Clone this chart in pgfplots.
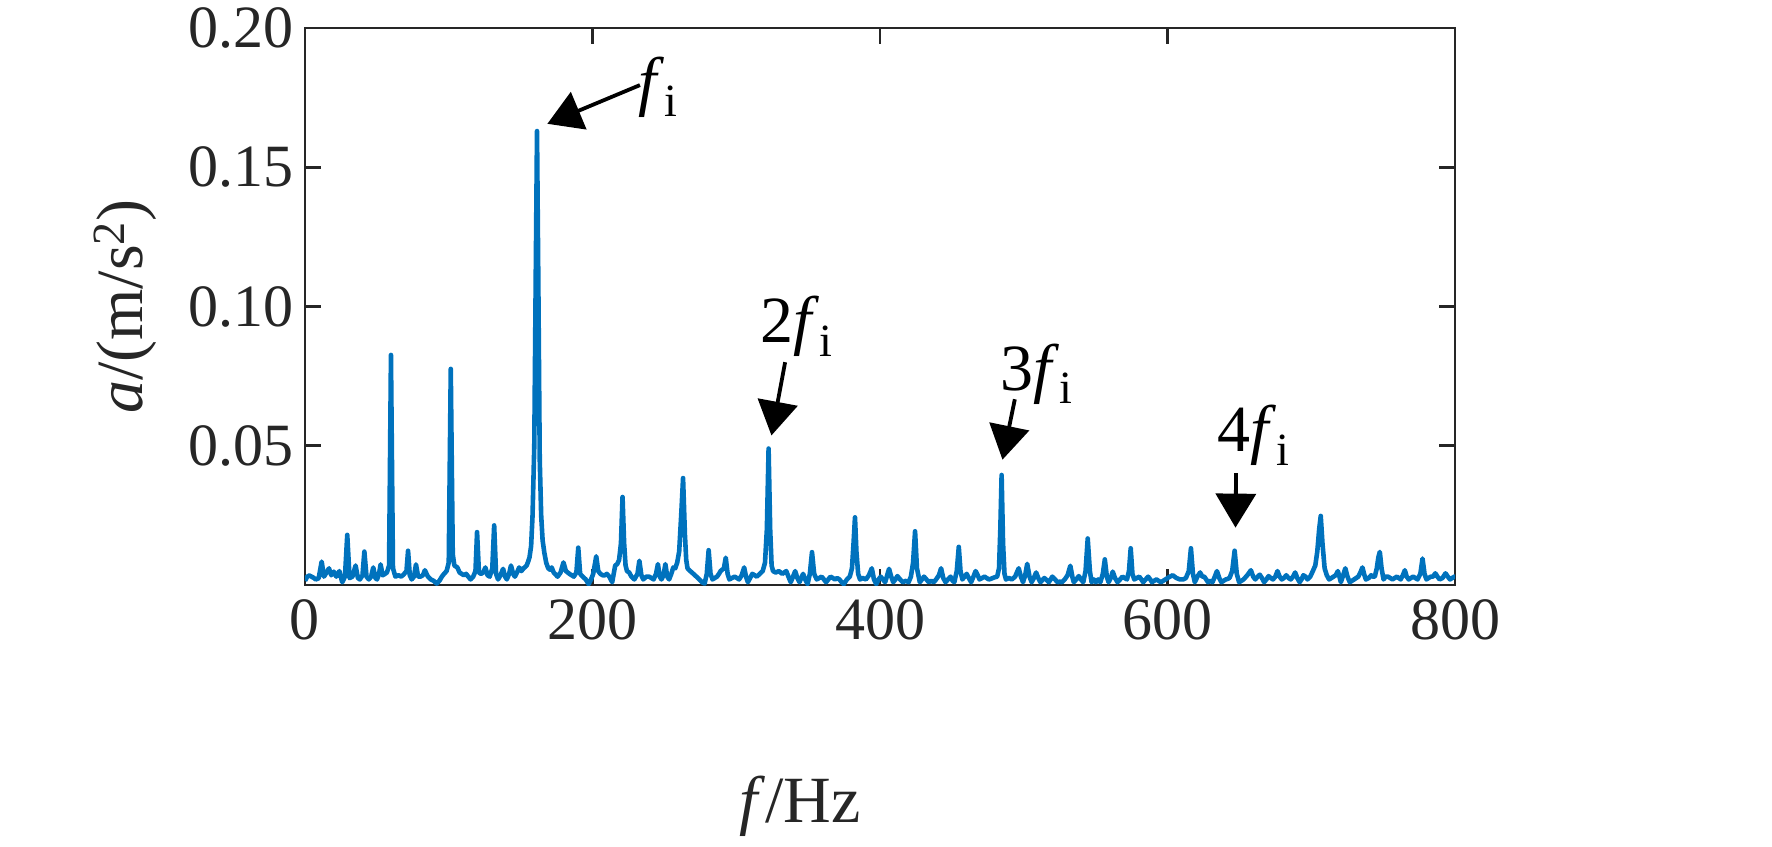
\documentclass[border=0pt]{standalone}
\usepackage{fontspec}
\setmainfont{Liberation Serif}
\usepackage{pgfplots}
\usepackage{pgfplotstable}
\pgfplotsset{compat=1.18}
\usetikzlibrary{arrows.meta}
\definecolor{mblue}{RGB}{0,114,189}
\definecolor{axgray}{RGB}{38,38,38}
\pgfplotstableread{
x y
0 0.0015
1.5 0.0030
3 0.0034
4.5 0.0030
6 0.0026
7.5 0.0020
9.5 0.0024
11.6 0.0084
13.2 0.0030
15 0.0045
16.7 0.0060
18.3 0.0035
20 0.0048
21.8 0.0030
23.9 0.0050
25.9 0.0010
27.8 0.0030
29.4 0.0180
31 0.0025
33 0.0030
35.2 0.0070
36.8 0.0025
38.2 0.0020
40 0.0035
41.3 0.0120
42.8 0.0030
44.4 0.0020
46 0.0030
47.5 0.0063
49 0.0025
50.1 0.0020
51.5 0.0040
52.6 0.0074
54 0.0035
55.7 0.0040
57 0.0045
58.5 0.0070
59.8 0.0826
61.2 0.0060
62.9 0.0030
65 0.0035
67 0.0030
69 0.0040
70.6 0.0050
71.7 0.0123
72.9 0.0035
74.2 0.0020
75.8 0.0030
77.2 0.0074
78.7 0.0030
80.3 0.0030
82 0.0035
83.4 0.0053
85.5 0.0030
87.5 0.0020
89.5 0.0015
91.6 0.0005
93.5 0.0015
95.2 0.0030
96.7 0.0040
98.5 0.0050
100 0.0080
101.4 0.0776
102.8 0.0110
103.9 0.0070
106 0.0063
107.5 0.0045
109 0.0040
110.5 0.0035
112.1 0.0040
113.6 0.0030
115.2 0.0020
117 0.0030
118.6 0.0050
119.7 0.0190
121 0.0045
122.4 0.0040
124 0.0045
125.5 0.0063
127 0.0035
128.5 0.0030
130.3 0.0060
131.6 0.0214
132.9 0.0040
134.3 0.0020
136 0.0035
137.8 0.0058
139.2 0.0030
140.4 0.0020
142 0.0040
143.3 0.0070
144.8 0.0040
146 0.0030
147.5 0.0045
149 0.0063
150.5 0.0050
152.1 0.0060
153.2 0.0065
154.2 0.0070
155.3 0.0085
156.2 0.0100
157.3 0.0140
158.3 0.0250
159.5 0.0500
160.5 0.1100
161.4 0.1630
162.3 0.1100
163.3 0.0450
164.3 0.0250
165.3 0.0160
166.5 0.0116
167.8 0.0080
169.2 0.0060
170.4 0.0055
171.6 0.0063
173 0.0045
175.7 0.0030
177.8 0.0045
179.8 0.0081
181.5 0.0050
184 0.0040
185.5 0.0035
187 0.0030
188.8 0.0045
190.1 0.0134
191.4 0.0040
193.2 0.0030
195.3 0.0020
197.3 0.0003
199 0.0020
200.5 0.0040
202.6 0.0103
204 0.0050
205.5 0.0040
207 0.0035
208.6 0.0035
210 0.0040
211.7 0.0030
213.7 0.0010
215.8 0.0070
217.2 0.0075
218.5 0.0090
219.8 0.0150
220.9 0.0316
222 0.0150
223 0.0070
224 0.0050
225.5 0.0045
227.1 0.0030
229.1 0.0020
231.3 0.0040
232.6 0.0087
234 0.0035
235.3 0.0020
237.4 0.0030
239.4 0.0030
241 0.0025
242.5 0.0020
244.2 0.0040
245.5 0.0075
246.8 0.0030
248 0.0020
249.4 0.0035
250.7 0.0075
252 0.0030
253.3 0.0020
254.8 0.0040
256.2 0.0063
257.6 0.0060
258.9 0.0080
260.3 0.0120
261.7 0.0250
263 0.0384
264.3 0.0180
265.2 0.0090
266.1 0.0060
268 0.0050
270.2 0.0040
272.3 0.0030
274.3 0.0020
276.2 0.0010
278 0.0005
279.5 0.0040
280.8 0.0125
282.1 0.0040
283.5 0.0020
285 0.0025
286.6 0.0030
288 0.0040
289.1 0.0050
291.4 0.0060
292.7 0.0098
294 0.0040
295.2 0.0020
297 0.0025
298.9 0.0030
300.5 0.0025
302 0.0020
303.8 0.0035
305.5 0.0063
306.8 0.0030
308.1 0.0010
309.6 0.0025
311.2 0.0040
312.8 0.0035
314.3 0.0030
316.3 0.0040
318.4 0.0050
320 0.0080
321.3 0.0200
322.5 0.0490
323.6 0.0200
324.6 0.0070
325.6 0.0050
327.5 0.0045
329.7 0.0050
332 0.0040
334.8 0.0050
336.3 0.0030
337.9 0.0010
339.5 0.0030
341 0.0050
342.5 0.0025
344 0.0010
345.2 0.0025
346.5 0.0040
348 0.0020
349.6 0.0003
351.2 0.0040
352.7 0.0118
354.2 0.0040
356 0.0020
357.7 0.0025
359.4 0.0030
361 0.0020
362.5 0.0010
364 0.0020
365.6 0.0030
367.2 0.0025
368.7 0.0020
370.2 0.0025
371.8 0.0020
373.3 0.0010
374.8 0.0003
377 0.0020
379 0.0030
380.5 0.0060
381.6 0.0150
382.6 0.0243
383.6 0.0120
384.8 0.0040
386.1 0.0020
388 0.0025
390.2 0.0020
392.3 0.0035
394.3 0.0060
395.8 0.0020
397.4 0.0003
399 0.0020
400.5 0.0030
402 0.0020
403.6 0.0010
405 0.0035
406.3 0.0058
407.8 0.0030
409.2 0.0010
410.7 0.0020
412.1 0.0032
414 0.0020
415.8 0.0010
418 0.0015
419.9 0.0010
421.5 0.0030
423 0.0080
424.4 0.0193
425.7 0.0060
427.7 0.0010
429.2 0.0020
430.6 0.0030
432.3 0.0020
433.9 0.0010
435.6 0.0015
437.4 0.0010
439 0.0020
441 0.0035
442.5 0.0060
444 0.0025
445.6 0.0010
447.3 0.0020
449.1 0.0030
450.5 0.0015
451.7 0.0010
453.4 0.0050
454.8 0.0137
456 0.0050
457.3 0.0020
458.8 0.0030
460.3 0.0040
461.8 0.0025
463.4 0.0010
465 0.0030
466.5 0.0050
468 0.0035
469.2 0.0020
471 0.0025
472.7 0.0030
474.2 0.0025
475.7 0.0020
477 0.0022
478.4 0.0025
480 0.0028
481.5 0.0030
482.8 0.0060
483.7 0.0200
484.6 0.0395
485.6 0.0150
486.6 0.0040
487.6 0.0020
489.7 0.0025
491.7 0.0020
494 0.0030
495.2 0.0045
496.5 0.0060
498 0.0030
499.5 0.0010
501 0.0035
502.4 0.0076
504 0.0030
505.5 0.0010
507 0.0025
508.6 0.0045
510.1 0.0025
511.6 0.0010
513 0.0018
514.3 0.0025
515.9 0.0018
517.4 0.0010
518.7 0.0020
519.9 0.0030
521.7 0.0020
523.6 0.0010
525 0.0012
526.6 0.0010
528.5 0.0020
530.5 0.0035
532.4 0.0069
534 0.0025
534.8 0.0010
536.5 0.0020
538.3 0.0032
539.8 0.0020
541.4 0.0010
543 0.0050
544.5 0.0167
546 0.0050
547.2 0.0010
548.7 0.0020
550.2 0.0010
551.7 0.0020
553.3 0.0010
555 0.0040
556.4 0.0092
557.8 0.0030
559 0.0010
560.5 0.0025
561.9 0.0048
563.5 0.0025
565.2 0.0010
567 0.0020
568.7 0.0030
570.2 0.0025
571.8 0.0020
573.2 0.0050
574.4 0.0132
575.6 0.0040
576.9 0.0020
578.6 0.0025
580.4 0.0030
581.8 0.0020
583.1 0.0010
584.8 0.0020
586.5 0.0030
588 0.0020
589.2 0.0010
590.7 0.0015
592.3 0.0020
593.8 0.0015
595.4 0.0010
597 0.0015
598.5 0.0020
601 0.0028
603.6 0.0035
606.2 0.0025
608.7 0.0020
610.8 0.0020
612.8 0.0025
614.8 0.0050
616.3 0.0132
617.7 0.0040
619 0.0010
620.8 0.0030
622.7 0.0045
624.2 0.0030
625.6 0.0030
626.9 0.0020
628.2 0.0010
629.7 0.0015
631.3 0.0010
632.9 0.0030
634.4 0.0050
636 0.0025
637.5 0.0010
639 0.0015
640.6 0.0020
641.9 0.0022
643.2 0.0026
645 0.0050
646.7 0.0123
648.2 0.0040
649.8 0.0010
651.4 0.0015
652.9 0.0020
655.5 0.0035
658 0.0053
659.6 0.0030
661.1 0.0020
662.7 0.0030
664.2 0.0037
665.7 0.0025
667.2 0.0010
668.8 0.0020
670.3 0.0032
671.9 0.0025
673.4 0.0020
675 0.0030
676.5 0.0050
678 0.0030
679.5 0.0020
681 0.0025
682.6 0.0035
684.2 0.0025
685.7 0.0020
687.3 0.0030
688.8 0.0045
690.3 0.0025
691.9 0.0010
693.2 0.0020
694.5 0.0035
696 0.0030
697.4 0.0020
699.3 0.0030
701.1 0.0050
702.8 0.0070
704.2 0.0120
705.5 0.0200
706.6 0.0248
707.8 0.0150
709.3 0.0060
710.8 0.0035
712.4 0.0020
714 0.0025
715.5 0.0030
717 0.0035
718.5 0.0050
719.6 0.0030
720.6 0.0010
722.2 0.0035
723.7 0.0060
725.2 0.0030
726.8 0.0010
728.3 0.0015
729.8 0.0020
732.7 0.0030
734.2 0.0045
735.6 0.0063
737 0.0035
738 0.0020
740 0.0025
741.7 0.0035
743 0.0030
744.2 0.0030
745.6 0.0060
746.7 0.0100
747.7 0.0119
748.9 0.0060
750.3 0.0020
751.8 0.0030
753.4 0.0030
755 0.0025
756.5 0.0020
758 0.0025
759.6 0.0030
760.9 0.0025
762.2 0.0020
763.7 0.0035
765.1 0.0053
766.4 0.0030
767.8 0.0020
769.3 0.0025
770.9 0.0030
772.4 0.0025
773.9 0.0020
775.9 0.0040
777.4 0.0095
778.8 0.0040
780.1 0.0020
781.6 0.0025
783.2 0.0030
784.7 0.0030
786.3 0.0042
787.8 0.0030
789.3 0.0020
791.3 0.0025
793.4 0.0042
795 0.0030
796.5 0.0020
798 0.0025
799.6 0.0030
800 0.0030
}\spectrum
\begin{document}
\begin{tikzpicture}
\useasboundingbox (-152.5pt,-130.5pt) rectangle (733.5pt,292.5pt);
\begin{axis}[
  at={(0pt,0pt)}, anchor=south west,
  width=575pt, height=278.5pt, scale only axis,
  xmin=0, xmax=800, ymin=0, ymax=0.2,
  xtick={0,200,400,600,800},
  ytick={0.05,0.1,0.15,0.2},
  /pgf/number format/assume math mode=true,
  y tick label style={/pgf/number format/.cd, fixed, fixed zerofill, precision=2, /tikz/.cd},
  tick align=inside, major tick length=8pt,
  axis line style={axgray, line width=1.4pt},
  every tick/.style={axgray, line width=1.4pt},
  tick label style={font=\fontsize{30}{33}\selectfont, text=axgray},
  x tick label style={yshift=-4pt},
  y tick label style={xshift=-2pt},
  label style={font=\fontsize{33}{36}\selectfont, text=axgray},
  xlabel={\textit{f}/Hz},
  xlabel style={at={(axis description cs:0.4304,-0.4255)}, anchor=base},
  ylabel={\textit{a}/(m/s\textsuperscript{2})},
  ylabel style={at={(axis description cs:-0.1409,0.5)}, anchor=base, rotate=0},
  clip=true,
]
\addplot[mblue, line width=2.3pt, line join=round] table[x=x, y=y] {\spectrum};
\draw[black, line width=1.9pt, -{Triangle[width=20pt,length=17pt]}] (axis cs:233,0.1795) -- (axis cs:168.6,0.1656);
\draw[black, line width=1.9pt, -{Triangle[width=20pt,length=17pt]}] (axis cs:334,0.080) -- (axis cs:324.5,0.0537);
\draw[black, line width=1.9pt, -{Triangle[width=20pt,length=17pt]}] (axis cs:493.8,0.0667) -- (axis cs:485.2,0.045);
\draw[black, line width=1.9pt, -{Triangle[width=20pt,length=17pt]}] (axis cs:647.7,0.0402) -- (axis cs:647.3,0.0206);
\node[anchor=base west, inner sep=0pt, font=\fontsize{33}{36}\selectfont] at (axis cs:231.6,0.173) {\textit{f}\textsubscript{i}};
\node[anchor=base west, inner sep=0pt, font=\fontsize{33}{36}\selectfont] at (axis cs:316.5,0.0869) {2\textit{f}\textsubscript{i}};
\node[anchor=base west, inner sep=0pt, font=\fontsize{33}{36}\selectfont] at (axis cs:483.5,0.070) {3\textit{f}\textsubscript{i}};
\node[anchor=base west, inner sep=0pt, font=\fontsize{33}{36}\selectfont] at (axis cs:634.4,0.0478) {4\textit{f}\textsubscript{i}};
\end{axis}
\end{tikzpicture}
\end{document}
